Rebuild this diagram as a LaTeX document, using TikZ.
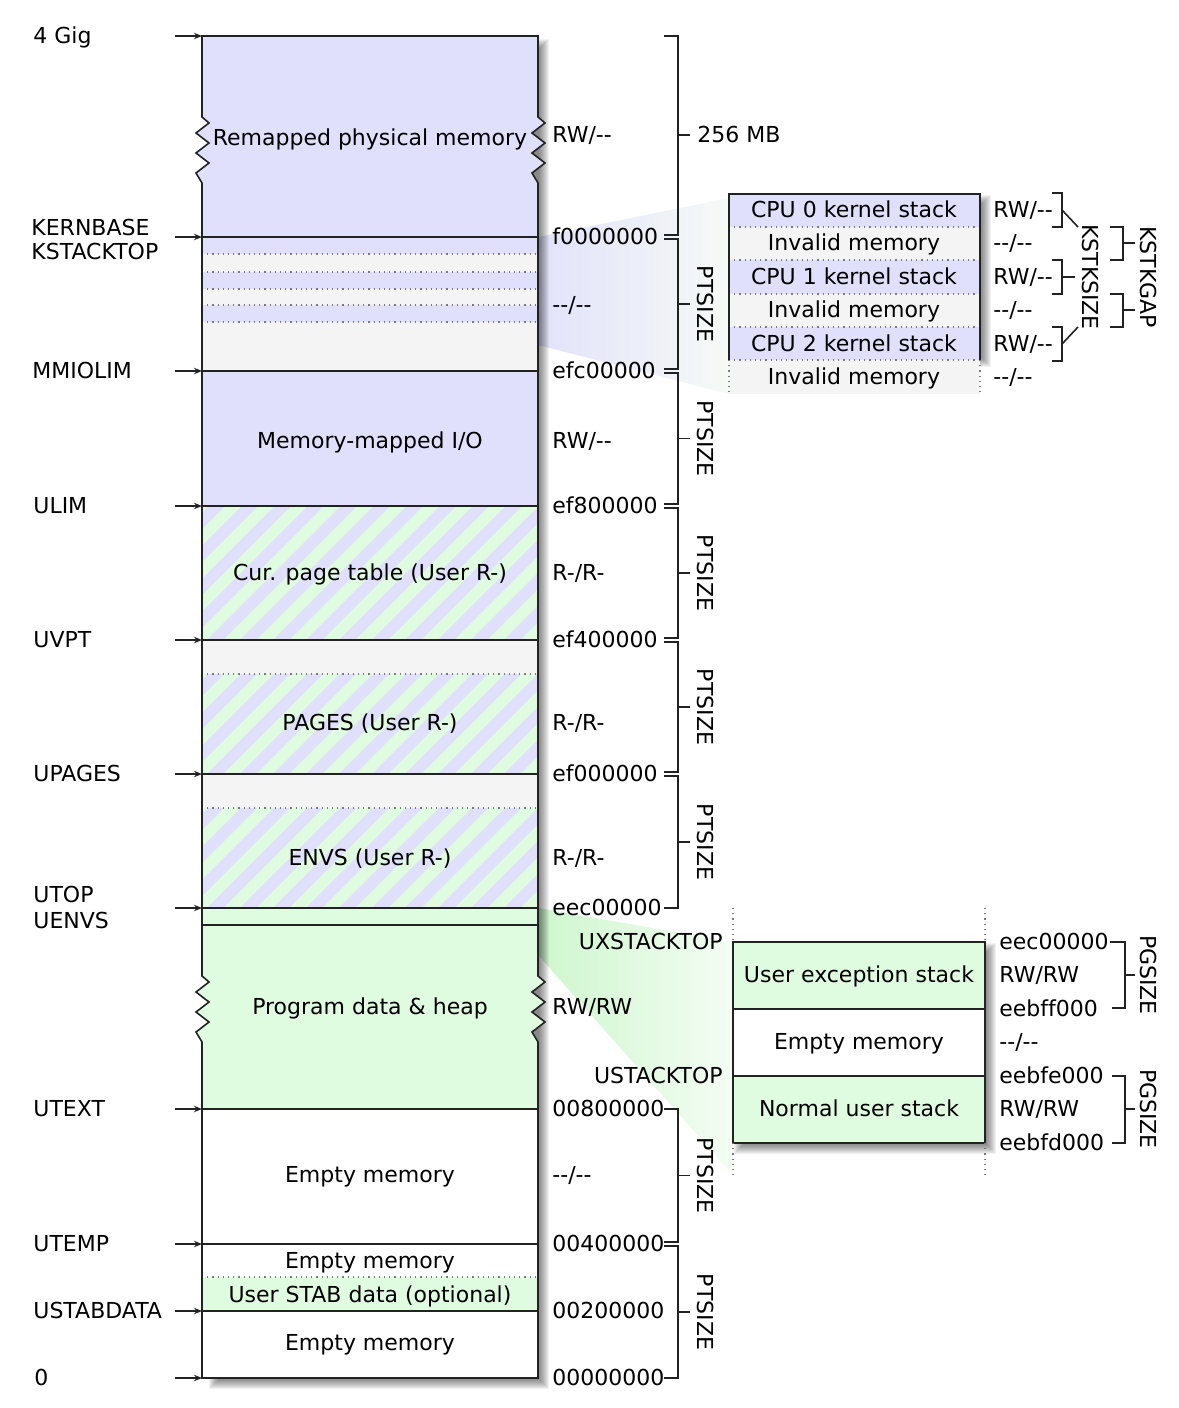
\documentclass[tikz,border=0pt]{standalone}
\usepackage{fontspec}
\setmainfont[Ligatures=NoCommon]{DejaVu Sans}
\usetikzlibrary{arrows.meta}
\definecolor{kblue}{RGB}{224,224,252}
\definecolor{kgreen}{RGB}{224,252,224}
\definecolor{kgray}{RGB}{244,244,244}
\definecolor{kline}{RGB}{34,34,34}
\definecolor{fanblueL}{RGB}{226,226,250}
\definecolor{fanblueR}{RGB}{246,250,246}
\definecolor{fangreenL}{RGB}{206,246,206}
\definecolor{fangreenR}{RGB}{244,253,244}
\newcommand\dd{-{}-}
\tikzset{
  x=0.5pt, y=-0.5pt,
  lbl/.style={inner sep=0pt, text height=0.73em, text depth=0pt, font=\fontsize{11}{13}\selectfont},
  wlbl/.style={lbl, anchor=west},
  elbl/.style={lbl, anchor=east},
  clbl/.style={lbl, anchor=center},
  rlbl/.style={lbl, anchor=center, rotate=-90},
  edge/.style={draw=kline, line width=0.8pt},
  dots/.style={draw=kline!60, line width=0.6pt, dotted},
  ptr/.style={draw=kline, line width=0.8pt, -{Stealth[length=4pt,width=3.2pt]}},
  brk/.style={draw=kline, line width=0.8pt},
}
\newcommand\softshadow[4]{%
  \foreach \e in {-5,...,5}{\fill[black,opacity=0.055] ({#1-\e},{#2-\e}) rectangle ({#3+\e},{#4+\e});}}
\newcommand\stripeband[2]{%
  \begin{scope}
    \clip (150,#1) rectangle (600,#2);
    \fill[kgreen] (150,#1) rectangle (600,#2);
    \foreach \s in {0,33,...,561}{\draw[kblue,line width=5.8pt] ({\s+30},{#2+20}) -- ++(200,-200);}
  \end{scope}}
\def\colpath{(202,36) -- (538,36) -- (538,117) -- (545,123) -- (532,133) -- (545,143) -- (532,153) -- (545,163) -- (532,173) -- (538,183)
 -- (538,976) -- (545,982) -- (532,992) -- (545,1002) -- (532,1012) -- (545,1022) -- (532,1032) -- (538,1042)
 -- (538,1378) -- (202,1378) -- (202,1042) -- (196,1032) -- (209,1022) -- (196,1012) -- (209,1002) -- (196,992) -- (209,982) -- (202,976)
 -- (202,183) -- (196,173) -- (209,163) -- (196,153) -- (209,143) -- (196,133) -- (209,123) -- (202,117) -- cycle}
\begin{document}
\begin{tikzpicture}
\useasboundingbox (0,0) rectangle (1178,1408);
% projection fans
\shade[left color=fanblueL, right color=fanblueR] (538,237) -- (729,198) -- (729,394) -- (538,345) -- cycle;
\shade[left color=fangreenL, right color=fangreenR] (538,908) -- (733,942) -- (733,1175) -- (538,955) -- cycle;
% shadows
\softshadow{214}{44}{544}{1384}
\softshadow{735}{200}{986}{362}
\softshadow{739}{948}{991}{1149}
% main column
\begin{scope}
  \clip \colpath;
  \fill[kblue] (150,30) rectangle (600,506);
  \fill[kgray] (150,254) rectangle (600,272);
  \fill[kgray] (150,289) rectangle (600,305);
  \fill[kgray] (150,322) rectangle (600,371);
  \stripeband{506}{640}
  \fill[kgray] (150,640) rectangle (600,674);
  \stripeband{674}{774}
  \fill[kgray] (150,774) rectangle (600,808);
  \stripeband{808}{908}
  \fill[kgreen] (150,908) rectangle (600,1109);
  \fill[white] (150,1109) rectangle (600,1277);
  \fill[kgreen] (150,1277) rectangle (600,1311);
  \fill[white] (150,1311) rectangle (600,1390);
  \foreach \yy in {237,371,506,640,774,908,925,1109,1244,1311}{\draw[edge] (150,\yy) -- (600,\yy);}
  \foreach \yy in {254,272,289,305,322,674,808,1277}{\draw[dots] (150,\yy) -- (600,\yy);}
\end{scope}
\draw[edge] \colpath;
% column texts
\node[clbl] (t1) at (370,138) {Remapped physical memory};
\node[clbl] (t2) at (370,441) {Memory-mapped I/O};
\node[clbl] (t3) at (370,573) {Cur. page table (User R-)};
\node[clbl] (t4) at (370,723) {PAGES (User R-)};
\node[clbl] (t5) at (370,858) {ENVS (User R-)};
\node[clbl] (t6) at (370,1007) {Program data \& heap};
\node[clbl] (t7) at (370,1175) {Empty memory};
\node[clbl] (t8) at (370,1261) {Empty memory};
\node[clbl] (t9) at (370,1295) {User STAB data (optional)};
\node[clbl] (t10) at (370,1343) {Empty memory};
% left labels and arrows
\node[wlbl] (l1) at (33,36) {4 Gig};
\node[wlbl] (l2a) at (31,228) {KERNBASE};
\node[wlbl] (l2b) at (31,252) {KSTACKTOP};
\node[wlbl] (l3) at (32,371) {MMIOLIM};
\node[wlbl] (l4) at (33,506) {ULIM};
\node[wlbl] (l5) at (33,640) {UVPT};
\node[wlbl] (l6) at (33,774) {UPAGES};
\node[wlbl] (l7a) at (33,895) {UTOP};
\node[wlbl] (l7b) at (33,921) {UENVS};
\node[wlbl] (l8) at (33,1109) {UTEXT};
\node[wlbl] (l9) at (33,1244) {UTEMP};
\node[wlbl] (l10) at (33,1311) {USTABDATA};
\node[wlbl] (l11) at (34,1378) {0};
\foreach \yy [count=\i] in {36,237,371,506,640,774,908,1109,1244,1311,1378}{
  \coordinate (as\i) at (175,\yy);
  \coordinate (ae\i) at (202,\yy);
  \draw[ptr] (as\i) -- (ae\i);
}
% right labels
\node[wlbl] (r1) at (552,135) {RW/\dd};
\node[wlbl] (r2) at (552,237) {f0000000};
\node[wlbl] (r3) at (552,305) {\dd/\dd};
\node[wlbl] (r4) at (552,371) {efc00000};
\node[wlbl] (r5) at (552,441) {RW/\dd};
\node[wlbl] (r6) at (552,506) {ef800000};
\node[wlbl] (r7) at (552,573) {R-/R-};
\node[wlbl] (r8) at (552,640) {ef400000};
\node[wlbl] (r9) at (552,723) {R-/R-};
\node[wlbl] (r10) at (552,774) {ef000000};
\node[wlbl] (r11) at (552,858) {R-/R-};
\node[wlbl] (r12) at (552,908) {eec00000};
\node[wlbl] (r13) at (552,1007) {RW/RW};
\node[wlbl] (r14) at (552,1109) {00800000};
\node[wlbl] (r15) at (552,1175) {\dd/\dd};
\node[wlbl] (r16) at (552,1244) {00400000};
\node[wlbl] (r17) at (552,1311) {00200000};
\node[wlbl] (r18) at (552,1378) {00000000};
% size brackets
\draw[brk] (664,36) -- (678,36) -- (678,235) -- (664,235);
\draw[brk] (678,135) -- (690,135);
\node[wlbl] (s256) at (697,135) {256 MB};
\foreach \ya/\yb/\nm in {239/369/p1,373/504/p2,508/638/p3,642/772/p4,776/908/p5,1109/1242/p6,1246/1378/p7}{
  \draw[brk] (664,\ya) -- (678,\ya) -- (678,\yb) -- (664,\yb);
  \draw[brk] (678,{(\ya+\yb)/2}) -- (690,{(\ya+\yb)/2});
  \node[rlbl] (\nm) at (705,{(\ya+\yb)/2}) {PTSIZE};
}
% kernel stack inset
\fill[kblue] (729,194) rectangle (980,227);
\fill[kgray] (729,227) rectangle (980,260);
\fill[kblue] (729,260) rectangle (980,294);
\fill[kgray] (729,294) rectangle (980,327);
\fill[kblue] (729,327) rectangle (980,360);
\fill[kgray] (729,360) rectangle (980,394);
\foreach \yy in {227,260,294,327,360}{\draw[dots] (729,\yy) -- (980,\yy);}
\draw[edge] (729,360) -- (729,194) -- (980,194) -- (980,360);
\draw[dots] (729,360) -- (729,394);
\draw[dots] (980,360) -- (980,394);
\node[clbl] (k1) at (854,210) {CPU 0 kernel stack};
\node[clbl] (k2) at (854,243) {Invalid memory};
\node[clbl] (k3) at (854,277) {CPU 1 kernel stack};
\node[clbl] (k4) at (854,310) {Invalid memory};
\node[clbl] (k5) at (854,344) {CPU 2 kernel stack};
\node[clbl] (k6) at (854,377) {Invalid memory};
\node[wlbl] (kp1) at (993,210) {RW/\dd};
\node[wlbl] (kp2) at (993,243) {\dd/\dd};
\node[wlbl] (kp3) at (993,277) {RW/\dd};
\node[wlbl] (kp4) at (993,310) {\dd/\dd};
\node[wlbl] (kp5) at (993,344) {RW/\dd};
\node[wlbl] (kp6) at (993,377) {\dd/\dd};
\draw[brk] (1052,193) -- (1062,193) -- (1062,227) -- (1052,227);
\draw[brk] (1062,210) -- (1078,227);
\draw[brk] (1052,260) -- (1062,260) -- (1062,294) -- (1052,294);
\draw[brk] (1062,277) -- (1075,277);
\draw[brk] (1052,327) -- (1062,327) -- (1062,361) -- (1052,361);
\draw[brk] (1062,344) -- (1078,327);
\node[rlbl] (kss) at (1090,277) {KSTKSIZE};
\draw[brk] (1110,227) -- (1123,227) -- (1123,260) -- (1110,260);
\draw[brk] (1123,243) -- (1135,243);
\draw[brk] (1110,294) -- (1123,294) -- (1123,327) -- (1110,327);
\draw[brk] (1123,310) -- (1135,310);
\node[rlbl] (ksg) at (1148,277) {KSTKGAP};
% user stack inset
\fill[kgreen] (733,942) rectangle (985,1009);
\fill[white] (733,1009) rectangle (985,1076);
\fill[kgreen] (733,1076) rectangle (985,1143);
\draw[edge] (733,942) rectangle (985,1143);
\draw[edge] (733,1009) -- (985,1009);
\draw[edge] (733,1076) -- (985,1076);
\draw[dots] (733,908) -- (733,942);
\draw[dots] (985,908) -- (985,942);
\draw[dots] (733,1143) -- (733,1177);
\draw[dots] (985,1143) -- (985,1177);
\node[clbl] (u1) at (859,975) {User exception stack};
\node[clbl] (u2) at (859,1042) {Empty memory};
\node[clbl] (u3) at (859,1109) {Normal user stack};
\node[elbl] (ux) at (723,942) {UXSTACKTOP};
\node[elbl] (us) at (723,1076) {USTACKTOP};
\node[wlbl] (up1) at (999,942) {eec00000};
\node[wlbl] (up2) at (999,975) {RW/RW};
\node[wlbl] (up3) at (999,1009) {eebff000};
\node[wlbl] (up4) at (999,1042) {\dd/\dd};
\node[wlbl] (up5) at (999,1076) {eebfe000};
\node[wlbl] (up6) at (999,1109) {RW/RW};
\node[wlbl] (up7) at (999,1143) {eebfd000};
\draw[brk] (1110,942) -- (1125,942) -- (1125,1008) -- (1112,1008);
\draw[brk] (1125,975) -- (1135,975);
\node[rlbl] (pg1) at (1148,975) {PGSIZE};
\draw[brk] (1112,1076) -- (1125,1076) -- (1125,1143) -- (1112,1143);
\draw[brk] (1125,1109) -- (1135,1109);
\node[rlbl] (pg2) at (1148,1109) {PGSIZE};
\end{tikzpicture}
\end{document}
